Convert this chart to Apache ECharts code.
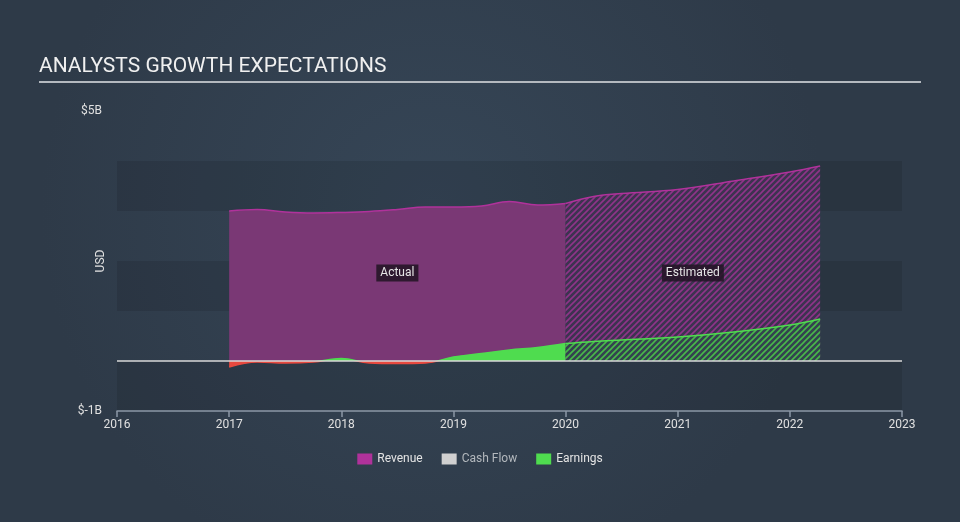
<!DOCTYPE html>
<html>
<head>
<meta charset="utf-8">
<script src="https://cdn.jsdelivr.net/npm/echarts@6/dist/echarts.min.js"></script>
<style>html,body{margin:0;padding:0;background:#323f4e;}#c{width:960px;height:522px;}</style>
</head>
<body>
<div id="c"></div>
<script>
// ---- data (values in USD billions) ----
const xTicks = [2016, 2017, 2018, 2019, 2020, 2021, 2022, 2023];
const yTickLabels = { '-1': '$-1B', '5': '$5B' };
const actualYears = [2017.0, 2017.25, 2017.5, 2017.75, 2018.0, 2018.25, 2018.5, 2018.75, 2019.0, 2019.25, 2019.5, 2019.75, 2020.0];
const revenueActual = [3.0, 3.03, 2.98, 2.96, 2.97, 2.99, 3.03, 3.08, 3.08, 3.1, 3.19, 3.12, 3.15];
const earningsActual = [-0.12, -0.02, -0.04, -0.02, 0.05, -0.04, -0.05, -0.04, 0.08, 0.15, 0.22, 0.27, 0.35];
const estYears = [2020.0, 2020.25, 2020.5, 2021.0, 2021.5, 2022.0, 2022.27];
const revenueEst = [3.15, 3.29, 3.35, 3.43, 3.6, 3.78, 3.9];
const earningsEst = [0.35, 0.39, 0.42, 0.48, 0.58, 0.72, 0.84];
const legendNames = ['Revenue', 'Cash Flow', 'Earnings'];
const phaseLabels = [
  { text: 'Actual', x: (2017 + 2020) / 2, y: 1.76 },
  { text: 'Estimated', x: (2020 + 2022.27) / 2, y: 1.76 }
];

function pairs(xs, ys) { return xs.map((x, i) => [x, ys[i]]); }

function hatch(bg, fg) {
  const n = 6;
  const c = document.createElement('canvas');
  c.width = n; c.height = n;
  const g = c.getContext('2d');
  g.fillStyle = bg; g.fillRect(0, 0, n, n);
  g.strokeStyle = fg; g.lineWidth = 1.6;
  g.beginPath();
  g.moveTo(0, n); g.lineTo(n, 0);
  g.moveTo(-n / 2, n / 2); g.lineTo(n / 2, -n / 2);
  g.moveTo(n / 2, n * 1.5); g.lineTo(n * 1.5, n / 2);
  g.stroke();
  return { image: c, repeat: 'repeat' };
}

const REV = '#b0329b', REV_FILL = '#7a3875', GREEN = '#4fdc4f', RED = '#e8493f';
const chart = echarts.init(document.getElementById('c'), null, { renderer: 'canvas' });

const labelStyle = {
  show: true, color: '#e6e6e6', fontSize: 12, fontFamily: 'Roboto',
  backgroundColor: 'rgba(35,20,38,0.88)', padding: [3, 4, 2, 4], borderRadius: 0
};

chart.setOption({
  backgroundColor: {
    type: 'radial', x: 0.45, y: 0.4, r: 0.75,
    colorStops: [{ offset: 0, color: '#364657' }, { offset: 1, color: '#2e3a48' }]
  },
  animation: false,
  title: {
    text: 'ANALYSTS GROWTH EXPECTATIONS', left: 39, top: 56, padding: 0,
    textStyle: { color: '#f0f0f0', fontSize: 21, fontWeight: 'normal', fontFamily: 'Roboto' }
  },
  graphic: [{
    type: 'line', shape: { x1: 39, y1: 82, x2: 921, y2: 82 },
    style: { stroke: '#b4b9bf', lineWidth: 2 }, silent: true
  }],
  legend: {
    bottom: 52, left: 'center', itemWidth: 15, itemHeight: 11, itemGap: 19,
    icon: 'rect', selectedMode: false,
    textStyle: { color: '#e4e4e4', fontSize: 12, fontFamily: 'Roboto' },
    data: [
      { name: legendNames[0], itemStyle: { color: REV } },
      { name: legendNames[1], itemStyle: { color: '#d0d0d0' }, textStyle: { color: '#b3b8bd' } },
      { name: legendNames[2], itemStyle: { color: GREEN } }
    ]
  },
  grid: { left: 117, right: 58, top: 111, bottom: 111 },
  xAxis: {
    type: 'value', min: xTicks[0], max: xTicks[xTicks.length - 1], interval: 1,
    axisLine: { show: true, onZero: false, lineStyle: { color: '#8c98a6', width: 1.5 } },
    axisTick: { show: true, length: 6, lineStyle: { color: '#8c98a6', width: 1.5 } },
    axisLabel: { color: '#e0e0e0', fontSize: 12, fontFamily: 'Roboto', margin: 8, formatter: v => String(v) },
    splitLine: { show: false }
  },
  yAxis: {
    type: 'value', min: -1, max: 5, interval: 1,
    name: 'USD', nameLocation: 'middle', nameGap: 10, nameRotate: 90, nameMoveOverlap: false,
    nameTextStyle: { color: '#e0e0e0', fontSize: 12, fontFamily: 'Roboto' },
    axisLine: { show: false }, axisTick: { show: false },
    axisLabel: { color: '#e0e0e0', fontSize: 12, fontFamily: 'Roboto', margin: 15,
      formatter: v => yTickLabels[String(v)] || '' },
    splitLine: { show: false },
    splitArea: { show: true, areaStyle: { color: ['rgba(0,0,0,0.1)', 'rgba(0,0,0,0)'] } }
  },
  visualMap: {
    type: 'piecewise', show: false, dimension: 1, seriesIndex: 2,
    pieces: [{ min: -10, max: 0, color: RED }, { gt: 0, max: 10, color: GREEN }]
  },
  series: [
    {
      name: 'Revenue', type: 'line', data: pairs(actualYears, revenueActual), smooth: 0.4,
      symbol: 'none', z: 2,
      lineStyle: { color: REV, width: 1.5 }, itemStyle: { color: REV },
      areaStyle: { color: REV_FILL, opacity: 1 },
      markPoint: {
        symbol: 'rect', symbolSize: 1, itemStyle: { color: 'rgba(0,0,0,0)' }, silent: true,
        label: Object.assign({ position: 'inside', formatter: p => p.name }, labelStyle),
        data: phaseLabels.map(p => ({ name: p.text, coord: [p.x, p.y] }))
      }
    },
    {
      name: 'Revenue', type: 'line', data: pairs(estYears, revenueEst), smooth: 0.4,
      symbol: 'none', z: 2,
      lineStyle: { color: REV, width: 1.5 }, itemStyle: { color: REV },
      areaStyle: { color: hatch('#3d3350', '#8f3489'), opacity: 1 }
    },
    {
      name: 'Earnings', type: 'line', data: pairs(actualYears, earningsActual), smooth: 0.4,
      symbol: 'none', z: 3,
      lineStyle: { width: 1.5 }, itemStyle: { color: GREEN },
      areaStyle: { opacity: 1 }
    },
    {
      name: 'Earnings', type: 'line', data: pairs(estYears, earningsEst), smooth: 0.4,
      symbol: 'none', z: 3,
      lineStyle: { color: GREEN, width: 1.5 }, itemStyle: { color: GREEN },
      areaStyle: { color: hatch('#34424f', '#48b94a'), opacity: 1 }
    },
    {
      name: 'Cash Flow', type: 'line', data: [], symbol: 'none', itemStyle: { color: '#d0d0d0' },
      markLine: {
        silent: true, symbol: 'none', label: { show: false },
        lineStyle: { color: '#d8d8d8', width: 1.5, type: 'solid' },
        data: [{ yAxis: 0 }]
      },
      z: 4
    }
  ]
});
</script>
</body>
</html>
